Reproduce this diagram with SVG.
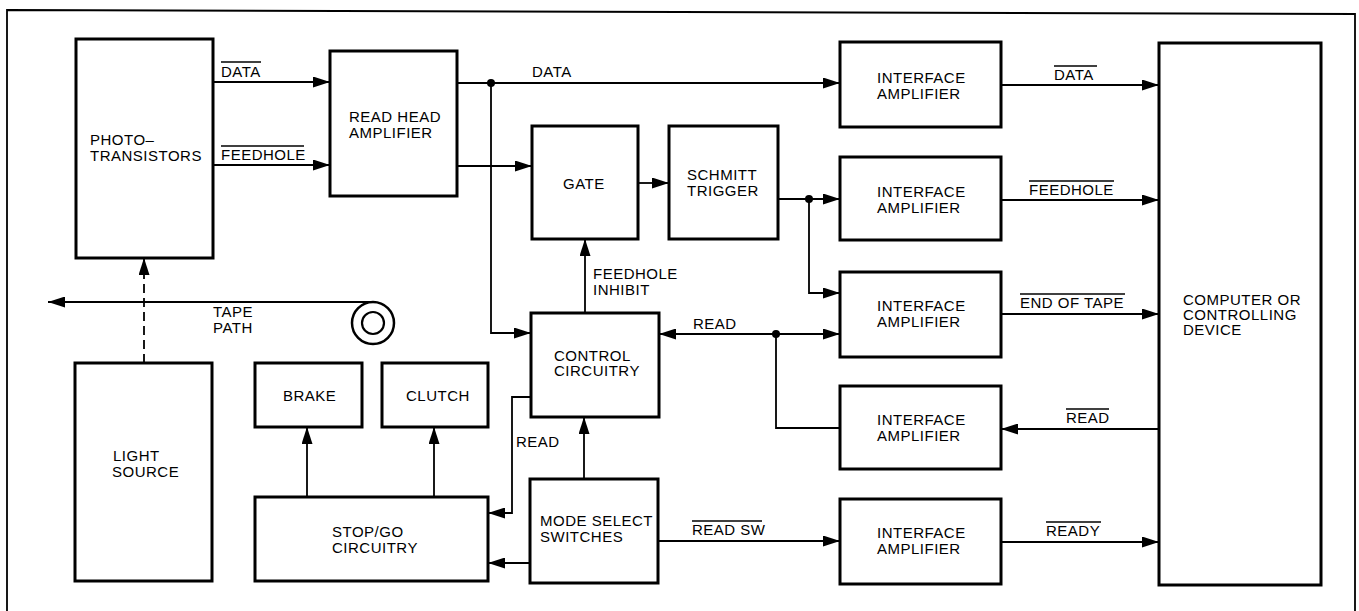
<svg xmlns="http://www.w3.org/2000/svg" width="1359" height="611" viewBox="0 0 1359 611">
<defs>
<marker id="ah" markerUnits="userSpaceOnUse" markerWidth="17" markerHeight="11" refX="17" refY="5.5" orient="auto-start-reverse">
<path d="M0,0 L17,5.5 L0,11 z" fill="#000"/>
</marker>
</defs>
<style>
.box{fill:#fff;stroke:#000;stroke-width:3}
.ln{fill:none;stroke:#000;stroke-width:1.8}
.arr{fill:none;stroke:#000;stroke-width:1.8;marker-end:url(#ah)}
.ov{stroke:#000;stroke-width:1.5}
text{font-family:"Liberation Sans",Arial,sans-serif;font-size:15px;letter-spacing:0.5px;fill:#000}
</style>
<rect width="1359" height="611" fill="#fff"/>
<path class="ln" d="M7,620 L7,10 L1355,14 L1355,620" stroke-width="2.2"/>

<g id="phototransistors"><rect class="box" x="76" y="39" width="137" height="219"/><text x="90" y="145">PHOTO–</text><text x="90" y="161">TRANSISTORS</text></g>
<g id="readhead"><rect class="box" x="330" y="51" width="127" height="145"/><text x="349" y="122">READ HEAD</text><text x="349" y="138">AMPLIFIER</text></g>
<g id="gate"><rect class="box" x="532" y="126" width="106" height="113"/><text x="563" y="189">GATE</text></g>
<g id="schmitt"><rect class="box" x="669" y="126" width="109" height="113"/><text x="687" y="180">SCHMITT</text><text x="687" y="196">TRIGGER</text></g>
<g id="ia1"><rect class="box" x="840" y="42" width="161" height="85"/><text x="877" y="83">INTERFACE</text><text x="877" y="99">AMPLIFIER</text></g>
<g id="ia2"><rect class="box" x="840" y="157" width="161" height="83"/><text x="877" y="197">INTERFACE</text><text x="877" y="213">AMPLIFIER</text></g>
<g id="ia3"><rect class="box" x="840" y="272" width="161" height="85"/><text x="877" y="311">INTERFACE</text><text x="877" y="327">AMPLIFIER</text></g>
<g id="ia4"><rect class="box" x="840" y="386" width="161" height="83"/><text x="877" y="425">INTERFACE</text><text x="877" y="441">AMPLIFIER</text></g>
<g id="ia5"><rect class="box" x="840" y="499" width="161" height="85"/><text x="877" y="538">INTERFACE</text><text x="877" y="554">AMPLIFIER</text></g>
<g id="computer"><rect class="box" x="1159" y="43" width="162" height="542"/><text x="1183" y="305">COMPUTER OR</text><text x="1183" y="320">CONTROLLING</text><text x="1183" y="335">DEVICE</text></g>
<g id="lightsource"><rect class="box" x="75" y="363" width="137" height="218"/><text x="113" y="461">LIGHT</text><text x="112" y="477">SOURCE</text></g>
<g id="brake"><rect class="box" x="255" y="363" width="107" height="64"/><text x="283" y="401">BRAKE</text></g>
<g id="clutch"><rect class="box" x="382" y="363" width="106" height="64"/><text x="406" y="401">CLUTCH</text></g>
<g id="stopgo"><rect class="box" x="255" y="497" width="233" height="84"/><text x="332" y="537">STOP/GO</text><text x="332" y="553">CIRCUITRY</text></g>
<g id="control"><rect class="box" x="531" y="313" width="128" height="104"/><text x="554" y="361">CONTROL</text><text x="554" y="376">CIRCUITRY</text></g>
<g id="modeselect"><rect class="box" x="530" y="479" width="128" height="104"/><text x="540" y="526">MODE SELECT</text><text x="540" y="542">SWITCHES</text></g>
<g id="reel"><circle cx="373" cy="323" r="21" fill="none" stroke="#000" stroke-width="2.5"/><circle cx="373" cy="323" r="11" fill="none" stroke="#000" stroke-width="2.2"/></g>

<g id="connectors">
<line class="arr" x1="213" y1="82" x2="330" y2="82"/>
<line class="arr" x1="213" y1="165" x2="330" y2="165"/>
<line class="arr" x1="457" y1="83" x2="840" y2="83"/>
<circle cx="491" cy="83" r="4"/>
<polyline class="arr" points="491,83 491,333 531,333"/>
<line class="arr" x1="457" y1="166" x2="532" y2="166"/>
<line class="arr" x1="638" y1="183" x2="669" y2="183"/>
<line class="arr" x1="778" y1="199" x2="840" y2="199"/>
<circle cx="809" cy="199" r="4"/>
<polyline class="arr" points="809,199 809,293 840,293"/>
<line class="arr" x1="585" y1="313" x2="585" y2="239"/>
<line class="arr" x1="1001" y1="85" x2="1159" y2="85"/>
<line class="arr" x1="1001" y1="200" x2="1159" y2="200"/>
<line class="arr" x1="1001" y1="314" x2="1159" y2="314"/>
<line class="arr" x1="1159" y1="429" x2="1001" y2="429"/>
<line class="arr" x1="1001" y1="542" x2="1159" y2="542"/>
<line class="arr" x1="776" y1="334" x2="659" y2="334"/>
<line class="arr" x1="776" y1="334" x2="840" y2="334"/>
<circle cx="776" cy="334" r="4"/>
<polyline class="ln" points="776,334 776,428 840,428"/>
<polyline class="arr" points="531,397 512,397 512,513 488,513"/>
<line class="arr" x1="584" y1="479" x2="584" y2="417"/>
<line class="arr" x1="530" y1="563" x2="488" y2="563"/>
<line class="arr" x1="658" y1="541" x2="840" y2="541"/>
<line class="arr" x1="307" y1="497" x2="307" y2="427"/>
<line class="arr" x1="434" y1="497" x2="434" y2="427"/>
<line class="arr" x1="373" y1="302" x2="48" y2="302"/>
<line class="arr" x1="144" y1="363" x2="144" y2="258" stroke-dasharray="9,5"/>
</g>

<g id="labels">
<text x="221" y="77">DATA</text><line class="ov" x1="221" y1="62" x2="261" y2="62"/>
<text x="221" y="160">FEEDHOLE</text><line class="ov" x1="221" y1="146" x2="304" y2="146"/>
<text x="532" y="77">DATA</text>
<text x="593" y="279">FEEDHOLE</text><text x="593" y="295">INHIBIT</text>
<text x="1054" y="80">DATA</text><line class="ov" x1="1054" y1="66" x2="1097" y2="66"/>
<text x="1029" y="195">FEEDHOLE</text><line class="ov" x1="1029" y1="181" x2="1114" y2="181"/>
<text x="1020" y="308">END OF TAPE</text><line class="ov" x1="1020" y1="294" x2="1125" y2="294"/>
<text x="1066" y="423">READ</text><line class="ov" x1="1066" y1="409" x2="1109" y2="409"/>
<text x="1046" y="536">READY</text><line class="ov" x1="1046" y1="522" x2="1101" y2="522"/>
<text x="693" y="329">READ</text>
<text x="516" y="447">READ</text>
<text x="692" y="535">READ SW</text><line class="ov" x1="692" y1="521" x2="762" y2="521"/>
<text x="213" y="317">TAPE</text><text x="213" y="333">PATH</text>
</g>
</svg>
